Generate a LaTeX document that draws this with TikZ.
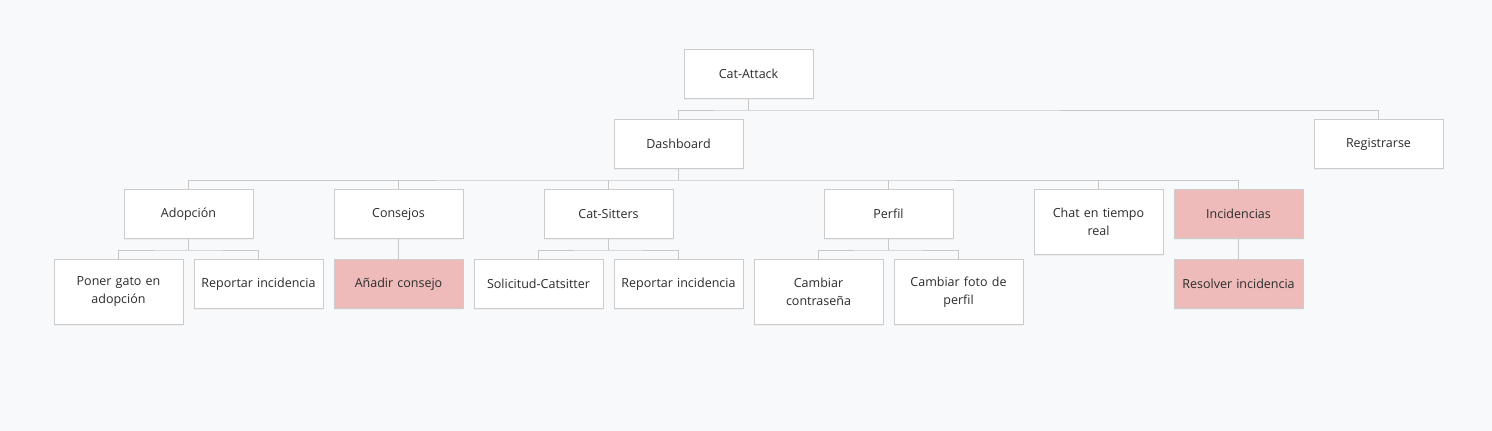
\documentclass[tikz,border=0pt]{standalone}
\usepackage{fontspec}
\setmainfont{Open Sans}
\usetikzlibrary{shadows}
\definecolor{bg}{HTML}{F8F9FB}
\definecolor{bordc}{HTML}{CCCCCC}
\definecolor{linec}{HTML}{C8C8C8}
\definecolor{pinkc}{HTML}{EEBBBA}
\definecolor{txtc}{HTML}{2B2B2B}
\tikzset{
  box/.style={draw=bordc, line width=1pt, fill=white, minimum width=129pt, minimum height=49pt,
    anchor=north, align=center, text width=120pt, font=\fontsize{12.5}{18}\selectfont, text=txtc,
    inner sep=0pt, drop shadow={shadow xshift=0pt, shadow yshift=-1.5pt, opacity=0.08}},
  tall/.style={minimum height=65pt},
  hl/.style={fill=pinkc},
  conn/.style={draw=linec, line width=1pt},
}
\begin{document}
\begin{tikzpicture}[x=1pt,y=-1pt]
\fill[bg] (0,0) rectangle (1492,431);
\useasboundingbox (0,0) rectangle (1492,431);
% level 0
\node[box] (root) at (748.5,49) {Cat-Attack};
% level 1
\node[box] (dash) at (678.5,119) {Dashboard};
\node[box] (reg) at (1378.5,119) {Registrarse};
% level 2
\node[box] (adop) at (188.5,189) {Adopción};
\node[box] (cons) at (398.5,189) {Consejos};
\node[box] (cats) at (608.5,189) {Cat-Sitters};
\node[box] (perf) at (888.5,189) {Perfil};
\node[box,tall] (chat) at (1098.5,189) {Chat en tiempo\\real};
\node[box,hl] (inc) at (1238.5,189) {Incidencias};
% level 3
\node[box,tall] (poner) at (118.5,259) {Poner gato en\\adopción};
\node[box] (rep1) at (258.5,259) {Reportar incidencia};
\node[box,hl] (anad) at (398.5,259) {Añadir consejo};
\node[box] (sol) at (538.5,259) {Solicitud-Catsitter};
\node[box] (rep2) at (678.5,259) {Reportar incidencia};
\node[box,tall] (pass) at (818.5,259) {Cambiar\\contraseña};
\node[box,tall] (foto) at (958.5,259) {Cambiar foto de\\perfil};
\node[box,hl] (res) at (1238.5,259) {Resolver incidencia};
% connectors
\begin{scope}[on background layer/.try]
\end{scope}
\draw[conn] (root.south) -- ++(0,11) coordinate (r1);
\draw[conn] (dash.north) |- (r1) -| (reg.north);
\draw[conn] (dash.south) -- ++(0,11) coordinate (d1);
\draw[conn] (adop.north) |- (d1) -| (inc.north);
\draw[conn] (cons.north) -- (cons.north |- d1);
\draw[conn] (cats.north) -- (cats.north |- d1);
\draw[conn] (perf.north) -- (perf.north |- d1);
\draw[conn] (chat.north) -- (chat.north |- d1);
\draw[conn] (adop.south) -- ++(0,11) coordinate (a1);
\draw[conn] (poner.north) |- (a1) -| (rep1.north);
\draw[conn] (cons.south) -- (anad.north);
\draw[conn] (cats.south) -- ++(0,11) coordinate (c1);
\draw[conn] (sol.north) |- (c1) -| (rep2.north);
\draw[conn] (perf.south) -- ++(0,11) coordinate (p1);
\draw[conn] (pass.north) |- (p1) -| (foto.north);
\draw[conn] (inc.south) -- (res.north);
\end{tikzpicture}
\end{document}
